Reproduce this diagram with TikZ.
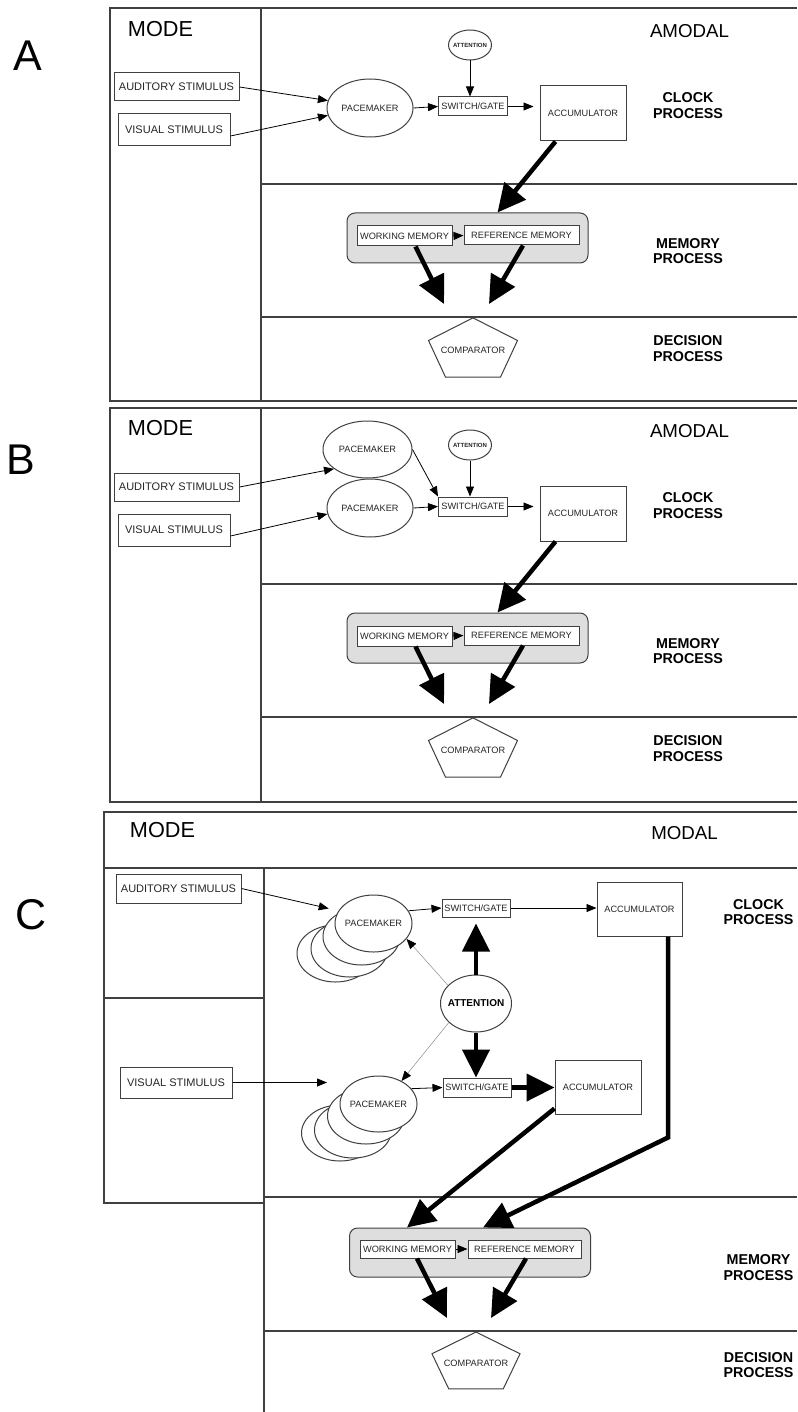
\documentclass[tikz,border=0pt]{standalone}
\usepackage{fontspec}
\setmainfont{Liberation Sans}
\usetikzlibrary{shapes.geometric,arrows.meta}

\newcommand{\lblsize}{\fontsize{9.2}{11}\selectfont}
\newcommand{\stimsize}{\fontsize{11}{13}\selectfont}
\newcommand{\modesize}{\fontsize{21.7}{24}\selectfont}
\newcommand{\amodsize}{\fontsize{18.7}{21}\selectfont}
\newcommand{\procsize}{\fontsize{14.3}{15.5}\selectfont\bfseries}
\newcommand{\lettersize}{\fontsize{43}{46}\selectfont}
\newcommand{\attsmall}{\fontsize{6}{7}\selectfont\bfseries}
\newcommand{\attbig}{\fontsize{10}{12}\selectfont\bfseries}

\begin{document}
\begin{tikzpicture}[x=1pt, y=-1pt,
  every node/.style = {font=\lblsize, text=black!85, inner sep=0pt},
  box/.style = {rectangle, draw=black!75, line width=1pt, fill=white},
  stim/.style = {box, font=\stimsize},
  oval/.style = {ellipse, draw=black!75, line width=1pt, fill=white, inner xsep=-15pt},
  membox/.style = {rectangle, rounded corners=8pt, draw=black!75, line width=1pt, fill=black!13},
  frame/.style = {draw=black!75, line width=1.1pt},
  pentline/.style = {draw=black!75, line width=1pt},
  big/.style = {font=\lettersize, text=black},
  proc/.style = {font=\procsize, align=center, text=black},
  arr/.style = {-{Triangle[length=10pt,width=8pt]}, line width=0.8pt},
  fat/.style = {-{Triangle[length=28pt,width=27pt]}, line width=4.5pt},
  faint/.style = {-{Triangle[length=10pt,width=8pt,color=black]}, line width=0.5pt, draw=black!45}
]
\fill[white] (0,0) rectangle (797,1412);
\useasboundingbox (0,0) rectangle (797,1412);

% panel A
\draw[frame] (797,8) -- (110,8) -- (110,401) -- (797,401);
\draw[frame] (261,8) -- (261,401);
\draw[frame] (261,184) -- (797,184);
\draw[frame] (261,317) -- (797,317);

\node[big] (letA) at (27.5,56) {A};
\node[font=\modesize, text=black] (modeA) at (160.5,29.5) {MODE};
\node[font=\amodsize, text=black] (amodA) at (689.5,31.5) {AMODAL};
\node[proc] (clkA) at (688,105.5) {CLOCK\\PROCESS};
\node[proc] (memlA) at (688,251) {MEMORY\\PROCESS};
\node[proc] (declA) at (688,348.5) {DECISION\\PROCESS};

\node[stim, minimum width=125pt, minimum height=28pt] (audA) at (176.5,87) {AUDITORY STIMULUS};
\node[stim, minimum width=112pt, minimum height=32pt] (visA) at (174,130) {VISUAL STIMULUS};
\node[oval, minimum width=86pt, minimum height=58pt] (pmA) at (370,108) {PACEMAKER};
\node[oval, minimum width=43pt, minimum height=30pt, font=\attsmall] (attA) at (470,45) {ATTENTION};
\node[box, minimum width=69pt, minimum height=19pt] (swA) at (473,106.5) {SWITCH/GATE};
\node[box, minimum width=86pt, minimum height=55pt] (accA) at (583,113.5) {ACCUMULATOR};
\node[membox, minimum width=241pt, minimum height=50pt] (memA) at (467.5,238) {};
\node[box, minimum width=95pt, minimum height=20pt] (wmA) at (404.5,236) {WORKING MEMORY};
\node[box, minimum width=115pt, minimum height=19pt] (rmA) at (521.5,235.5) {REFERENCE MEMORY};
\node (cmpA) at (473,350.6) {COMPARATOR};
\draw[shift={(cmpA.center)}, yscale=0.7, pentline]
  (-90:46.8) -- (-18:46.8) -- (54:46.8) -- (126:46.8) -- (198:46.8) -- cycle;
\coordinate (tipA1) at (444,304);
\coordinate (tipA2) at (489,304);

\draw[arr] (audA.east) -- (pmA.170);
\draw[arr] ([yshift=-6pt]visA.east) -- (pmA.190);
\draw[arr] (pmA.east) -- (swA.west);
\draw[arr] (attA.south) -- (attA.south |- swA.north);
\draw[arr, shorten >=6pt] (swA.east) -- (accA.west |- swA.east);
\draw[fat] ([xshift=16pt]accA.south west) -- ([xshift=30pt]memA.north);
\draw[arr] (wmA.east) -- (rmA.west);
\draw[fat] ([xshift=11pt]wmA.south) -- (tipA1);
\draw[fat] ([xshift=1.5pt]rmA.south) -- (tipA2);

% panel B
\draw[frame] (797,408) -- (110,408) -- (110,802) -- (797,802);
\draw[frame] (261,408) -- (261,802);
\draw[frame] (261,584) -- (797,584);
\draw[frame] (261,717) -- (797,717);

\node[big] (letB) at (21,460) {B};
\node[font=\modesize, text=black] (modeB) at (160.5,428.5) {MODE};
\node[font=\amodsize, text=black] (amodB) at (689.5,431.5) {AMODAL};
\node[proc] (clkB) at (688,505.5) {CLOCK\\PROCESS};
\node[proc] (memlB) at (688,651) {MEMORY\\PROCESS};
\node[proc] (declB) at (688,748.5) {DECISION\\PROCESS};

\node[stim, minimum width=125pt, minimum height=28pt] (audB) at (176.5,487) {AUDITORY STIMULUS};
\node[stim, minimum width=112pt, minimum height=32pt] (visB) at (174,530) {VISUAL STIMULUS};
\node[oval, minimum width=89pt, minimum height=57pt] (pmB1) at (367.5,449.5) {PACEMAKER};
\node[oval, minimum width=86pt, minimum height=58pt] (pmB2) at (370,508) {PACEMAKER};
\node[oval, minimum width=43pt, minimum height=30pt, font=\attsmall] (attB) at (470,445) {ATTENTION};
\node[box, minimum width=69pt, minimum height=19pt] (swB) at (473,506.5) {SWITCH/GATE};
\node[box, minimum width=86pt, minimum height=55pt] (accB) at (583,513.5) {ACCUMULATOR};
\node[membox, minimum width=241pt, minimum height=50pt] (memB) at (467.5,638) {};
\node[box, minimum width=95pt, minimum height=20pt] (wmB) at (404.5,636) {WORKING MEMORY};
\node[box, minimum width=115pt, minimum height=19pt] (rmB) at (521.5,635.5) {REFERENCE MEMORY};
\node (cmpB) at (473,750.6) {COMPARATOR};
\draw[shift={(cmpB.center)}, yscale=0.7, pentline]
  (-90:46.8) -- (-18:46.8) -- (54:46.8) -- (126:46.8) -- (198:46.8) -- cycle;
\coordinate (tipB1) at (444,704);
\coordinate (tipB2) at (489,704);

\draw[arr] (audB.east) -- (pmB1.210);
\draw[arr] ([yshift=-6pt]visB.east) -- (pmB2.188);
\draw[arr] (pmB1.east) -- (swB.north west);
\draw[arr] (pmB2.east) -- (swB.west);
\draw[arr] (attB.south) -- (attB.south |- swB.north);
\draw[arr, shorten >=6pt] (swB.east) -- (accB.west |- swB.east);
\draw[fat] ([xshift=16pt]accB.south west) -- ([xshift=30pt]memB.north);
\draw[arr] (wmB.east) -- (rmB.west);
\draw[fat] ([xshift=11pt]wmB.south) -- (tipB1);
\draw[fat] ([xshift=1.5pt]rmB.south) -- (tipB2);

% panel C
\draw[frame] (797,812) -- (104,812) -- (104,1203) -- (264,1203);
\draw[frame] (104,868) -- (797,868);
\draw[frame] (104,998) -- (264,998);
\draw[frame] (264,868) -- (264,1412);
\draw[frame] (264,1197) -- (797,1197);
\draw[frame] (264,1331) -- (797,1331);

\node[big] (letC) at (31,915) {C};
\node[font=\modesize, text=black] (modeC) at (162.5,830) {MODE};
\node[font=\amodsize, text=black] (modC) at (684.5,833.5) {MODAL};
\node[proc] (clkC) at (758.5,912) {CLOCK\\PROCESS};
\node[proc] (memlC) at (758.5,1267.5) {MEMORY\\PROCESS};
\node[proc] (declC) at (758.5,1365) {DECISION\\PROCESS};

\node[stim, minimum width=125pt, minimum height=29pt] (audC) at (178.5,888.5) {AUDITORY STIMULUS};
\node[stim, minimum width=112pt, minimum height=31pt] (visC) at (176,1082.5) {VISUAL STIMULUS};

\node[oval, minimum width=77pt, minimum height=57pt] (pmAud4) at (335.5,953.5) {};
\node[oval, minimum width=77pt, minimum height=57pt] (pmAud3) at (349.5,948.5) {};
\node[oval, minimum width=77pt, minimum height=57pt] (pmAud2) at (361.5,936.5) {};
\node[oval, minimum width=77pt, minimum height=57pt] (pmAud) at (373.5,923.5) {PACEMAKER};
\node[oval, minimum width=77pt, minimum height=56pt] (pmVis4) at (340,1133) {};
\node[oval, minimum width=77pt, minimum height=56pt] (pmVis3) at (353,1130) {};
\node[oval, minimum width=77pt, minimum height=56pt] (pmVis2) at (366,1116) {};
\node[oval, minimum width=77pt, minimum height=56pt] (pmVis) at (378.5,1104) {PACEMAKER};

\node[oval, minimum width=71pt, minimum height=57pt, font=\attbig, text=black] (attC) at (476,1003.5) {ATTENTION};
\node[box, minimum width=68pt, minimum height=18pt] (swAud) at (476,908) {SWITCH/GATE};
\node[box, minimum width=85pt, minimum height=54pt] (accAud) at (639.5,909) {ACCUMULATOR};
\node[box, minimum width=68pt, minimum height=19pt] (swVis) at (477,1087.5) {SWITCH/GATE};
\node[box, minimum width=86pt, minimum height=54pt] (accVis) at (598,1087) {ACCUMULATOR};
\node[membox, minimum width=241pt, minimum height=49pt] (memC) at (470,1252.5) {};
\node[box, minimum width=95pt, minimum height=18pt] (wmC) at (407.5,1249) {WORKING MEMORY};
\node[box, minimum width=113pt, minimum height=18pt] (rmC) at (524.5,1249) {REFERENCE MEMORY};
\node (cmpC) at (476,1363.5) {COMPARATOR};
\draw[shift={(cmpC.center)}, yscale=0.68, pentline]
  (-90:46.3) -- (-18:46.3) -- (54:46.3) -- (126:46.3) -- (198:46.3) -- cycle;
\coordinate (tipC1) at (447,1318);
\coordinate (tipC2) at (491,1318);

\draw[arr, shorten >=10pt] (audC.east) -- (pmAud.160);
\draw[arr] (pmAud.20) -- (swAud.west);
\draw[arr] (swAud.east) -- (accAud.west |- swAud.east);
\draw[arr] (visC.east) -- (visC.east -| pmVis2.west);
\draw[arr] (pmVis.25) -- (swVis.west);
\draw[faint] (attC.147) -- (pmAud.-25);
\draw[faint] (attC.215) -- (pmVis.45);
\draw[fat, shorten >=6pt] (attC.north) -- (attC.north |- swAud.south);
\draw[fat] (attC.south) -- (attC.south |- swVis.north);
\draw[fat] (swVis.east) -- (accVis.west |- swVis.east);
\draw[fat] ([xshift=28.5pt]accAud.south) -- ++(0,201) -- ([xshift=13pt]memC.north);
\draw[fat] ([yshift=6pt]accVis.south west) -- ([xshift=-63pt]memC.north);
\draw[arr] (wmC.east) -- (rmC.west);
\draw[fat] ([xshift=9.5pt]wmC.south) -- (tipC1);
\draw[fat] ([xshift=1.5pt]rmC.south) -- (tipC2);
\end{tikzpicture}
\end{document}
